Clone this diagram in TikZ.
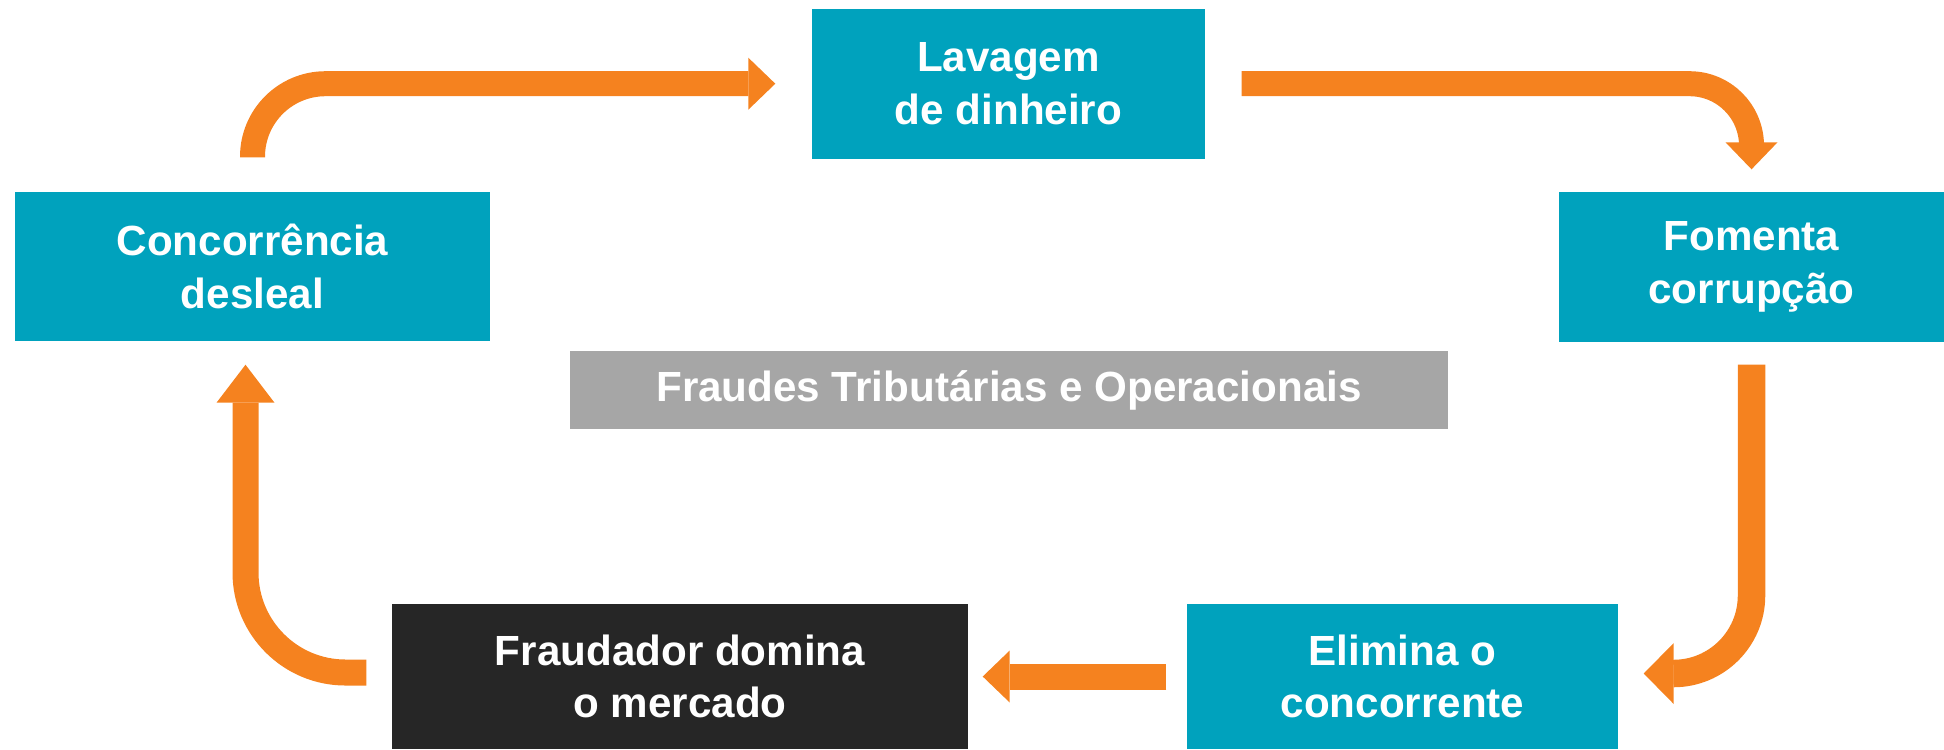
\documentclass[tikz,border=0pt]{standalone}
\usepackage{fontspec}
\setmainfont{Liberation Sans}
\usetikzlibrary{arrows.meta}
\definecolor{azul}{RGB}{0,162,189}
\definecolor{cinza}{RGB}{166,166,166}
\definecolor{escuro}{RGB}{38,38,38}
\definecolor{laranja}{RGB}{245,130,31}
\tikzset{
caixa/.style = {rectangle, inner sep=0pt, text=white, align=center, font=\bfseries\fontsize{12}{15}\selectfont},
seta/.style = {draw=laranja, line width=0.26cm, -{Triangle[length=0.27cm, width=0.52cm, line width=0pt]}}
}

\begin{document}
\begin{tikzpicture}
\useasboundingbox (0,0) rectangle (19.44,7.49);
\node[caixa, fill=azul, minimum width=3.93cm, minimum height=1.50cm] (lavagem) at (10.085,6.653) {Lavagem\\de dinheiro};
\node[caixa, fill=azul, minimum width=4.75cm, minimum height=1.49cm] (concorrencia) at (2.525,4.825) {Concorrência\\desleal};
\node[caixa, fill=azul, minimum width=3.85cm, minimum height=1.50cm] (fomenta) at (17.515,4.82) {Fomenta\\corrupção};
\node[caixa, fill=cinza, minimum width=8.78cm, minimum height=0.78cm] (fraudes) at (10.09,3.59) {Fraudes Tributárias e Operacionais};
\node[caixa, fill=escuro, minimum width=5.76cm, minimum height=1.45cm] (fraudador) at (6.80,0.725) {Fraudador domina\\o mercado};
\node[caixa, fill=azul, minimum width=4.31cm, minimum height=1.45cm] (elimina) at (14.025,0.725) {Elimina o\\concorrente};
\draw[seta, line width=0.25cm, rounded corners=0.73cm] ([yshift=0.34cm]concorrencia.north) |- ([xshift=-0.36cm]lavagem.west);
\draw[seta, line width=0.25cm, rounded corners=0.62cm] ([xshift=0.36cm]lavagem.east) -| ([yshift=0.22cm]fomenta.north);
\draw[seta, line width=0.275cm, rounded corners=0.78cm, -{Triangle[length=0.30cm, width=0.61cm, line width=0pt]}] ([yshift=-0.22cm]fomenta.south) |- ([xshift=0.25cm, yshift=0.03cm]elimina.east);
\draw[seta] ([xshift=-0.2cm]elimina.west) -- ([xshift=0.14cm]fraudador.east);
\draw[seta, rounded corners=1cm, -{Triangle[length=0.38cm, width=0.58cm, line width=0pt]}] ([xshift=-0.25cm, yshift=0.04cm]fraudador.west) -| ([xshift=-0.07cm, yshift=-0.23cm]concorrencia.south);
\end{tikzpicture}
\end{document}
